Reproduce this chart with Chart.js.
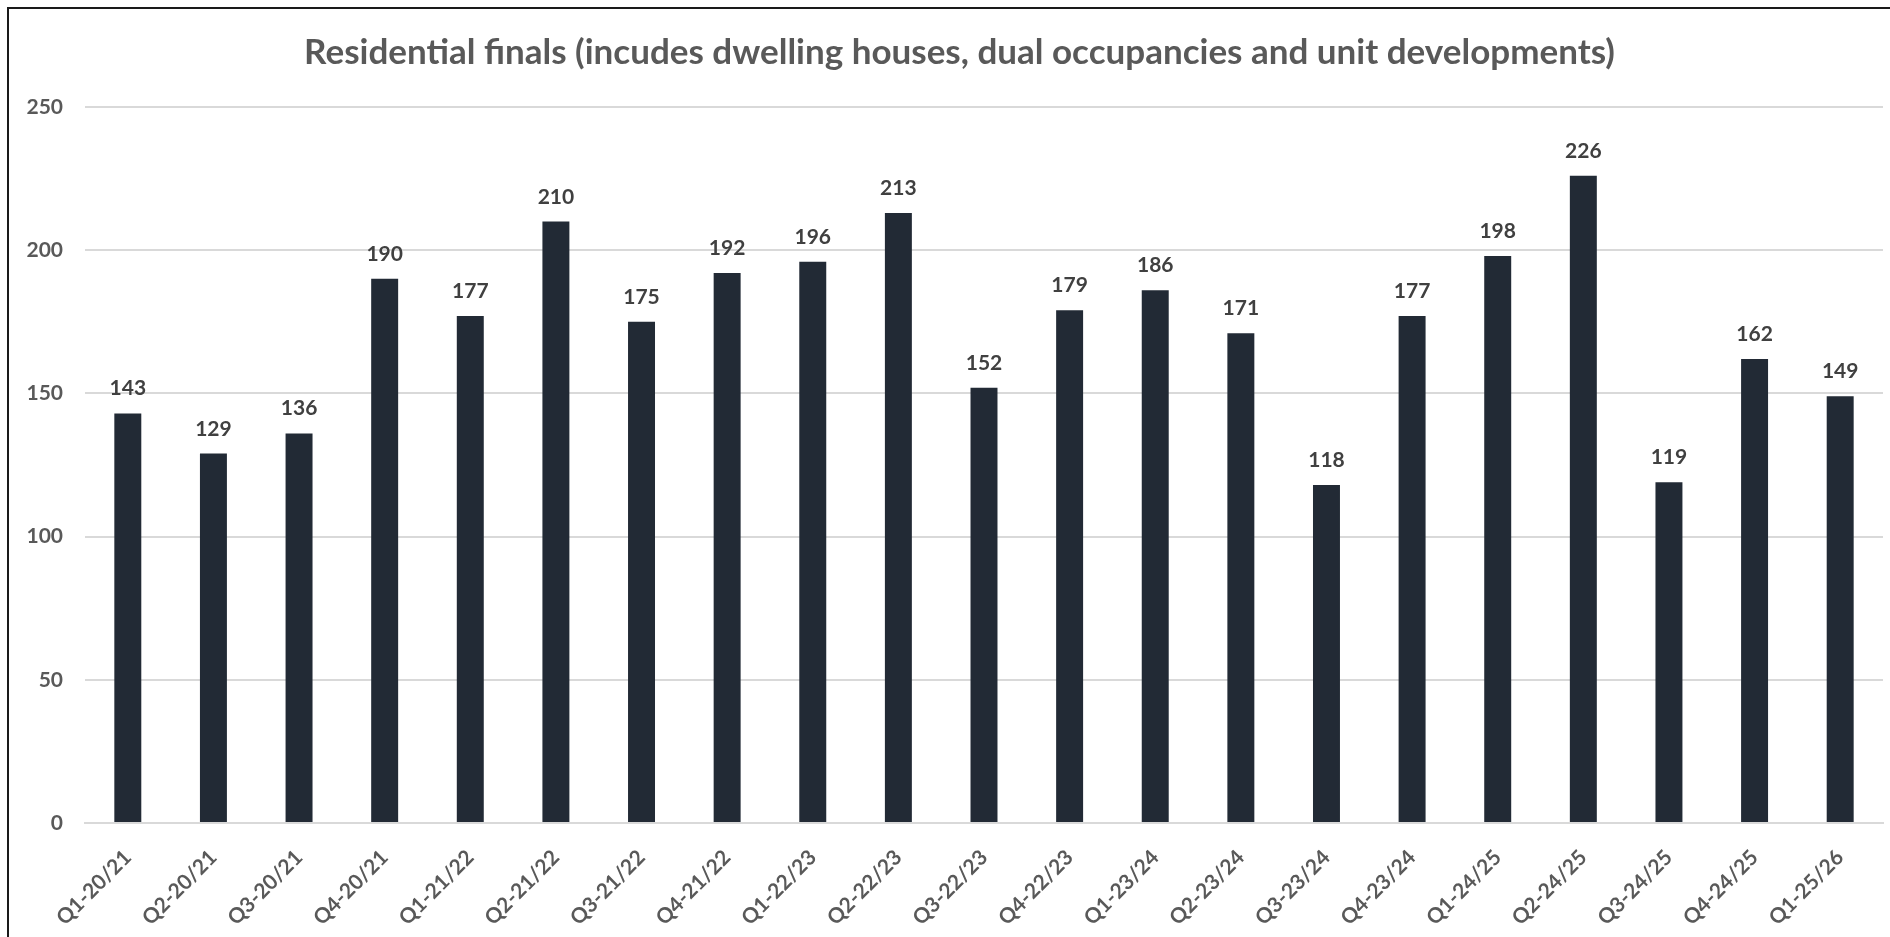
<!DOCTYPE html>
<html>
<head>
<meta charset="utf-8">
<script src="https://cdn.jsdelivr.net/npm/chart.js@4"></script>
<style>
  html, body { margin: 0; padding: 0; background: #fff; overflow: hidden; }
  #wrap { position: relative; width: 1890px; height: 937px; }
  #frame { position: absolute; left: 7px; top: 7px; width: 2000px; height: 2000px;
           border: 2px solid #1a1a1a; pointer-events: none; }
</style>
</head>
<body>
<div id="wrap">
  <canvas id="chart-finals" width="1890" height="937"></canvas>
  <div id="frame"></div>
</div>
<script>
const finalsChart = document.getElementById("chart-finals");

const quarterLabels = ['Q1-20/21', 'Q2-20/21', 'Q3-20/21', 'Q4-20/21', 'Q1-21/22', 'Q2-21/22', 'Q3-21/22',
    'Q4-21/22', 'Q1-22/23', 'Q2-22/23', 'Q3-22/23', 'Q4-22/23', 'Q1-23/24', 'Q2-23/24', 'Q3-23/24',
    'Q4-23/24', 'Q1-24/25', 'Q2-24/25', 'Q3-24/25', 'Q4-24/25', 'Q1-25/26'];
const residentialFinals = [143, 129, 136, 190, 177, 210, 175, 192, 196, 213, 152, 179, 186, 171, 118,
    177, 198, 226, 119, 162, 149];
const yTicks = [0, 50, 100, 150, 200, 250];

const fontFamily = 'Lato, "Open Sans", sans-serif';

// value labels on top of each bar
const barValues = {
    id: 'barValues',
    afterLayout(chart) {
        // title sits a little right of the canvas centre in the original
        chart.titleBlock.left += 18;
        chart.titleBlock.right += 18;
    },
    afterDatasetsDraw(chart) {
        const ctx = chart.ctx;
        const meta = chart.getDatasetMeta(0);
        ctx.save();
        ctx.font = 'bold 21px ' + fontFamily;
        ctx.fillStyle = '#404040';
        ctx.textAlign = 'center';
        ctx.textBaseline = 'alphabetic';
        meta.data.forEach((bar, i) => {
            ctx.fillText(residentialFinals[i], bar.x, bar.y - 18);
        });
        ctx.restore();
    }
};

new Chart(finalsChart, {
    type: 'bar',
    data: {
        labels: quarterLabels,
        datasets: [{
            label: 'Residential finals',
            data: residentialFinals,
            backgroundColor: '#222a35',
            barPercentage: 0.315,
            categoryPercentage: 1,
        }]
    },
    plugins: [barValues],
    options: {
        responsive: false,
        animation: false,
        layout: { padding: { left: 0, right: 7, bottom: 0 } },
        plugins: {
            legend: { display: false },
            tooltip: { enabled: false },
            title: {
                display: true,
                text: 'Residential finals (incudes dwelling houses, dual occupancies and unit developments)',
                color: '#595959',
                font: { family: fontFamily, size: 35, weight: 'bold' },
                padding: { top: 32, bottom: 33 }
            }
        },
        scales: {
            y: {
                min: 0,
                max: 250,
                afterFit(scale) { scale.width = 85; },
                afterBuildTicks(scale) { scale.ticks = yTicks.map(v => ({ value: v })); },
                border: { display: false },
                grid: { color: '#d9d9d9', lineWidth: 2, drawTicks: false },
                ticks: {
                    color: '#595959',
                    padding: 22,
                    font: { family: fontFamily, size: 21, weight: 'bold' }
                }
            },
            x: {
                afterFit(scale) { scale.height = 114; },
                border: { display: true, color: '#d9d9d9', width: 2 },
                grid: { display: false, drawTicks: false },
                ticks: {
                    color: '#595959',
                    minRotation: 45,
                    maxRotation: 45,
                    padding: 22,
                    font: { family: fontFamily, size: 21, weight: 'bold' }
                }
            }
        }
    }
});
</script>
</body>
</html>
